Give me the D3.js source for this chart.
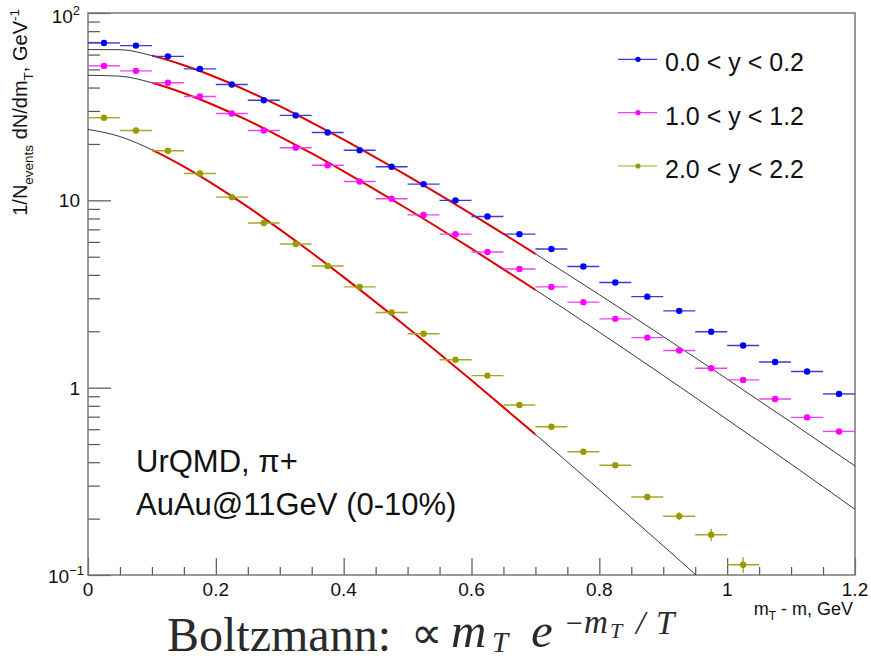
<!DOCTYPE html>
<html><head><meta charset="utf-8">
<script src="https://cdn.jsdelivr.net/npm/d3@7"></script>
<style>body{margin:0;background:#fff}svg{display:block}</style>
</head><body><svg id="c" width="871" height="662"></svg>
<script>
// ---- data ----
const xBins = [0.025,0.075,0.125,0.175,0.225,0.275,0.325,0.375,0.425,0.475,0.525,0.575,0.625,0.675,0.725,0.775,0.825,0.875,0.925,0.975,1.025,1.075,1.125,1.175];
const binHalfWidth = 0.025;
const blueY    = [69.2,67.0,58.7,50.3,41.5,34.2,28.4,23.0,18.5,15.1,12.2,10.0,8.2,6.6,5.5,4.43,3.64,3.06,2.57,1.99,1.68,1.37,1.22,0.926];
const magentaY = [52.2,49.1,42.4,35.8,29.1,23.6,19.1,15.4,12.6,10.2,8.36,6.6,5.30,4.30,3.45,2.86,2.33,1.85,1.58,1.27,1.10,0.87,0.694,0.584];
const oliveY   = [27.6,23.6,18.4,13.9,10.4,7.57,5.85,4.46,3.45,2.52,1.94,1.41,1.16,0.808,0.619,0.455,0.385,0.261,0.206,0.164,0.1135];
const oliveErr = [0,0,0,0,0,0,0,0,0,0,0,0,0,0,0,0,0.006,0.010,0.010,0.0125,0.011];

const fitX       = [0,0.05,0.1,0.15,0.2,0.25,0.3,0.35,0.4,0.5,0.6,0.7,0.8,0.9,1.0,1.1,1.2];
const fitBlue    = [63.8,63.7,59.2,52.6,45.4,38.3,31.8,26.0,21.1,13.5,8.44,5.18,3.135,1.875,1.111,0.654,0.382];
const fitMagenta = [46.5,46.0,42.4,37.3,31.9,26.7,21.9,17.8,14.29,8.99,5.52,3.33,1.978,1.162,0.676,0.391,0.224];
const fitOlive   = [23.9,21.9,18.6,15.14,11.95,9.22,7.00,5.25,3.89,2.09,1.095,0.563,0.285,0.143,0.071,0.035,0.017];
const fitRange   = [0.1,0.7];

const legendLabels = ["0.0 < y < 0.2","1.0 < y < 1.2","2.0 < y < 2.2"];
const xTickValues = [0,0.2,0.4,0.6,0.8,1,1.2];
const xTickLabels = ["0","0.2","0.4","0.6","0.8","1","1.2"];
const yTickValues = [0.1,1,10,100];
const yTickLabels = [["10","\u22121"],["1",""],["10",""],["10","2"]];

// ---- layout ----
const L=88,R=855,T=13,B=575;
const svg=d3.select("#c");
svg.append("rect").attr("width",871).attr("height",662).attr("fill","#fff");
const x=d3.scaleLinear().domain([0,1.2]).range([L,R]);
const y=d3.scaleLog().domain([0.1,100]).range([B,T]);
const font="Liberation Sans, Arial, Helvetica, sans-serif";

svg.append("defs").call(d=>{
  d.append("clipPath").attr("id","plot").append("rect").attr("x",L).attr("y",T).attr("width",R-L).attr("height",B-T);
  d.append("clipPath").attr("id","fitclip").append("rect").attr("x",x(fitRange[0])).attr("y",T).attr("width",x(fitRange[1])-x(fitRange[0])).attr("height",B-T);
});

// axes ticks (inward)
const tickCol="#555";
const yMinor=y.ticks().filter(v=>!yTickValues.some(t=>Math.abs(t-v)<1e-9));
const gy=svg.append("g").attr("transform",`translate(${L},0)`);
gy.call(d3.axisLeft(y).tickValues(yMinor).tickSizeInner(-12).tickSizeOuter(0).tickFormat(""));
gy.call(g=>g.select(".domain").remove());
const gy2=svg.append("g").attr("transform",`translate(${L},0)`);
gy2.call(d3.axisLeft(y).tickValues(yTickValues).tickSizeInner(-23).tickSizeOuter(0).tickFormat(""));
gy2.call(g=>g.select(".domain").remove());
const xMinor=x.ticks(24).filter(v=>!xTickValues.some(t=>Math.abs(t-v)<1e-9));
const gx=svg.append("g").attr("transform",`translate(0,${B})`);
gx.call(d3.axisBottom(x).tickValues(xMinor).tickSizeInner(-8).tickSizeOuter(0).tickFormat(""));
gx.call(g=>g.select(".domain").remove());
const gx2=svg.append("g").attr("transform",`translate(0,${B})`);
gx2.call(d3.axisBottom(x).tickValues(xTickValues).tickSizeInner(-17).tickSizeOuter(0).tickFormat(""));
gx2.call(g=>g.select(".domain").remove());
svg.selectAll(".tick line").attr("stroke",tickCol).attr("stroke-width",1.2);

// frame
svg.append("rect").attr("x",L).attr("y",T).attr("width",R-L).attr("height",B-T)
  .attr("fill","none").attr("stroke","#777").attr("stroke-width",1.5);

// y tick labels
yTickValues.forEach((v,i)=>{
  const [base,sup]=yTickLabels[i];
  const t=svg.append("text").attr("font-family",font).attr("font-size",19).attr("fill","#111")
    .attr("text-anchor","end");
  let yy=y(v)+7, xx=L-8;
  if(v===100) yy=y(v)+10;
  if(v===0.1){ yy=y(v)+8; xx=L-4; }
  t.attr("x",xx).attr("y",yy);
  t.append("tspan").text(base);
  if(sup) t.append("tspan").attr("font-size",13).attr("dy",-8).text(sup);
});
// x tick labels
xTickValues.forEach((v,i)=>{
  svg.append("text").attr("font-family",font).attr("font-size",19).attr("fill","#111")
    .attr("text-anchor","middle").attr("x",x(v)).attr("y",B+21).text(xTickLabels[i]);
});

// axis titles
svg.append("text").attr("font-family",font).attr("font-size",18).attr("fill","#111")
  .attr("text-anchor","end").attr("x",853).attr("y",615)
  .call(t=>{t.append("tspan").text("m");t.append("tspan").attr("font-size",12).attr("dy",5).text("T");
    t.append("tspan").attr("dy",-5).text(" - m, GeV");});
svg.append("text").attr("font-family",font).attr("font-size",20).attr("fill","#111")
  .attr("text-anchor","end").attr("transform","translate(27,9) rotate(-90)")
  .call(t=>{
    t.append("tspan").text("1/N");
    t.append("tspan").attr("font-size",13.5).attr("dy",6).text("events");
    t.append("tspan").attr("dy",-6).text(" dN/dm");
    t.append("tspan").attr("font-size",13.5).attr("dy",6).text("T");
    t.append("tspan").attr("dy",-6).text(", GeV");
    t.append("tspan").attr("font-size",13.5).attr("dy",-8).text("-1");
  });

// fit curves
const series=[
  {fit:fitBlue, y:blueY, x:xBins, err:null, col:"#0000f0", ecol:"#3a3ad8"},
  {fit:fitMagenta, y:magentaY, x:xBins, err:null, col:"#ff00ff", ecol:"#f040f0"},
  {fit:fitOlive, y:oliveY, x:xBins.slice(0,oliveY.length), err:oliveErr, col:"#999900", ecol:"#a8a820"}
];
const line=d3.line().x(d=>x(d[0])).y(d=>y(d[1])).curve(d3.curveMonotoneX);
const gc=svg.append("g").attr("clip-path","url(#plot)");
series.forEach(s=>{
  const pts=fitX.map((xv,i)=>[xv,s.fit[i]]);
  gc.append("path").attr("d",line(pts)).attr("fill","none").attr("stroke","#222").attr("stroke-width",0.9);
});
const gr=gc.append("g").attr("clip-path","url(#fitclip)");
series.forEach(s=>{
  const pts=fitX.map((xv,i)=>[xv,s.fit[i]]);
  gr.append("path").attr("d",line(pts)).attr("fill","none").attr("stroke","#e00000").attr("stroke-width",2);
});

// data points
const gd=svg.append("g").attr("clip-path","url(#plot)");
series.forEach(s=>{
  s.y.forEach((v,i)=>{
    const xv=s.x[i];
    gd.append("line").attr("x1",x(xv-binHalfWidth)).attr("x2",x(xv+binHalfWidth))
      .attr("y1",y(v)).attr("y2",y(v)).attr("stroke",s.ecol).attr("stroke-width",1.4);
    if(s.err && s.err[i]>0){
      gd.append("line").attr("x1",x(xv)).attr("x2",x(xv)).attr("y1",y(v-s.err[i])).attr("y2",y(v+s.err[i]))
        .attr("stroke",s.ecol).attr("stroke-width",1.4);
    }
    gd.append("circle").attr("cx",x(xv)).attr("cy",y(v)).attr("r",3.2).attr("fill",s.col);
  });
});

// legend
const legY=[59.3,112.7,166];
series.forEach((s,i)=>{
  svg.append("line").attr("x1",618).attr("x2",657).attr("y1",legY[i]).attr("y2",legY[i]).attr("stroke",s.ecol).attr("stroke-width",1.2);
  svg.append("circle").attr("cx",638).attr("cy",legY[i]).attr("r",2.6).attr("fill",s.col);
  svg.append("text").attr("font-family",font).attr("font-size",25).attr("fill","#111")
    .attr("x",665).attr("y",legY[i]+12).text(legendLabels[i]);
});

// annotation
svg.append("text").attr("font-family",font).attr("font-size",31).attr("fill","#111")
  .attr("x",136).attr("y",472).text("UrQMD, \u03c0+");
svg.append("text").attr("font-family",font).attr("font-size",31).attr("fill","#111")
  .attr("x",136).attr("y",515).text("AuAu@11GeV (0-10%)");

// formula
const sf="Liberation Serif, Times New Roman, serif";
const fg=svg.append("g").attr("font-family",sf).attr("fill","#2a2a2a");
fg.append("text").attr("font-size",48).attr("x",167).attr("y",651).text("Boltzmann:");
fg.append("text").attr("font-size",44).attr("x",411).attr("y",648).text("\u221d");
fg.append("text").attr("font-size",49).attr("font-style","italic").attr("x",451).attr("y",647).text("m");
fg.append("text").attr("font-size",29).attr("font-style","italic").attr("x",492).attr("y",652).text("T");
fg.append("text").attr("font-size",49).attr("font-style","italic").attr("x",531).attr("y",647).text("e");
fg.append("text").attr("font-size",30).attr("x",566).attr("y",633).text("\u2212");
fg.append("text").attr("font-size",33).attr("font-style","italic").attr("x",584).attr("y",633).text("m");
fg.append("text").attr("font-size",22).attr("font-style","italic").attr("x",610).attr("y",638).text("T");
fg.append("text").attr("font-size",33).attr("font-style","italic").attr("x",636).attr("y",634).text("/");
fg.append("text").attr("font-size",33).attr("font-style","italic").attr("x",656).attr("y",634).text("T");
</script></body></html>
